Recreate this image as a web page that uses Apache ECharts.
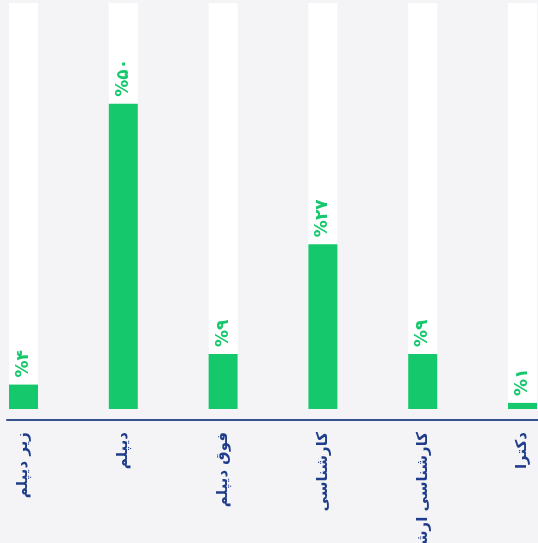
<!DOCTYPE html>
<html>
<head>
<meta charset="utf-8">
<script src="https://cdn.jsdelivr.net/npm/echarts@6/dist/echarts.min.js"></script>
<style>
html,body{margin:0;padding:0;background:#f4f4f7;}
#c{width:538px;height:543px;}
</style>
</head>
<body>
<div id="c"></div>
<script>
var categories = ['زیر دیپلم', 'دیپلم', 'فوق دیپلم', 'کارشناسی', 'کارشناسی ارشد', 'دکترا'];
var values = [4, 50, 9, 27, 9, 1];

var green = '#14c86b';
var navy = '#1f3d8a';
function toFa(n) {
  var d = '۰۱۲۳۴۵۶۷۸۹';
  return String(n).replace(/[0-9]/g, function (c) { return d[+c]; });
}

var chart = echarts.init(document.getElementById('c'), null, {renderer: 'canvas'});
chart.setOption({
  backgroundColor: '#f4f4f7',
  animation: false,
  grid: [
    {left: -26.4, width: 598.8, top: 3, bottom: 134, containLabel: false, outerBoundsMode: 'none'},
    {left: 7, right: 0, top: 3, bottom: 134, containLabel: false, outerBoundsMode: 'none'}
  ],
  xAxis: [
    {
      type: 'category', gridIndex: 0, data: categories, offset: 11,
      axisLine: {show: false, onZero: false}, axisTick: {show: false},
      axisLabel: {
        rotate: 90, margin: 12, color: navy, fontSize: 15, fontWeight: 'bold',
        fontFamily: 'DejaVu Sans', interval: 0
      }
    },
    {
      type: 'value', gridIndex: 1, offset: 11, min: 0, max: 1,
      axisLine: {show: true, onZero: false, lineStyle: {color: '#37528f', width: 2}},
      axisTick: {show: false}, axisLabel: {show: false}, splitLine: {show: false}
    }
  ],
  yAxis: [
    {type: 'value', gridIndex: 0, min: 0, max: 66.5, show: false, splitLine: {show: false}},
    {type: 'value', gridIndex: 1, min: 0, max: 1, show: false, splitLine: {show: false}}
  ],
  series: [{
    type: 'bar', xAxisIndex: 0, yAxisIndex: 0, data: values, barWidth: 29,
    itemStyle: {color: green},
    showBackground: true,
    backgroundStyle: {color: '#ffffff'},
    label: {
      show: true, position: 'top', rotate: 90, align: 'left', verticalAlign: 'middle',
      distance: 7, color: green, fontSize: 17, fontWeight: 'bold', fontFamily: 'DejaVu Sans',
      formatter: function (p) { return '%' + toFa(p.value); }
    }
  }]
});
</script>
</body>
</html>
